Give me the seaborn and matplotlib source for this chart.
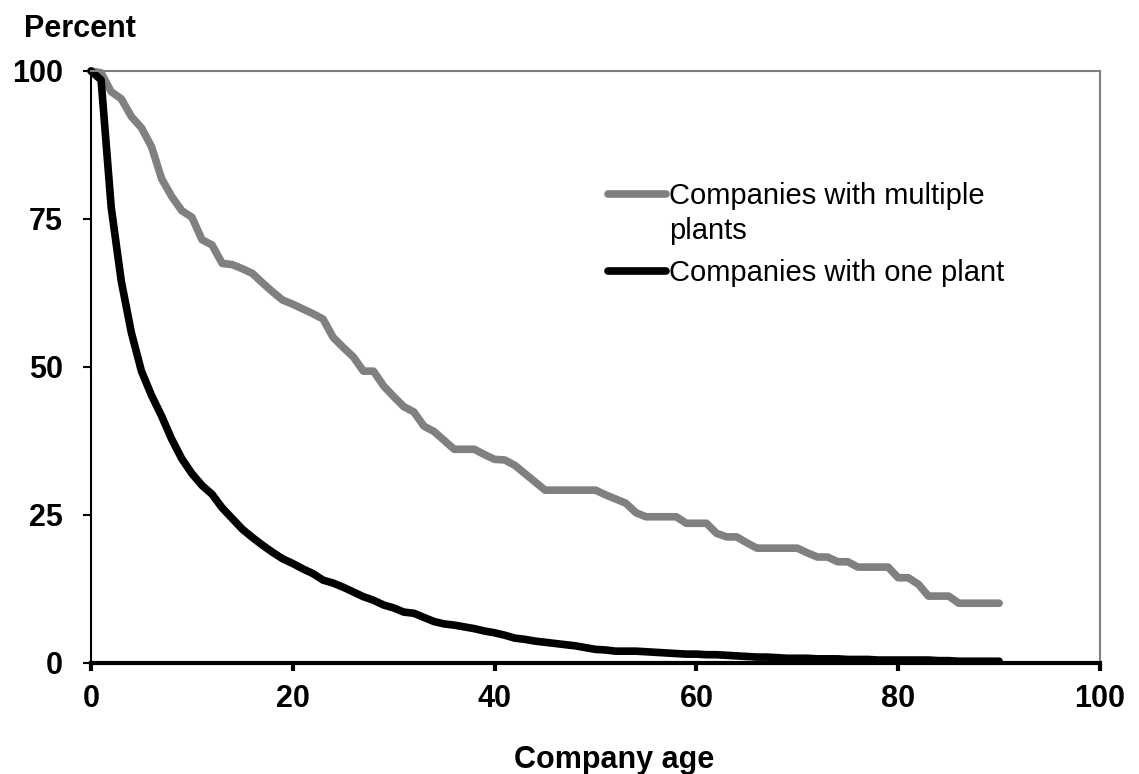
import numpy as np
import pandas as pd
import matplotlib
matplotlib.use("Agg")
import matplotlib.pyplot as plt
import seaborn as sns
from matplotlib.legend_handler import HandlerLine2D

# survival of companies by age (percent still alive)
age = list(range(0, 91))

multi_plant = [
    100, 99.7, 96.5, 95.3, 92.3, 90.4, 87.2, 81.8, 78.8, 76.4,
    75.3, 71.5, 70.6, 67.5, 67.3, 66.6, 65.8, 64.2, 62.7, 61.3,
    60.6, 59.8, 59.0, 58.1, 55.0, 53.3, 51.7, 49.3, 49.3, 46.8,
    45.0, 43.3, 42.4, 40.0, 39.1, 37.6, 36.1, 36.1, 36.1, 35.2,
    34.4, 34.3, 33.4, 32.0, 30.6, 29.2, 29.2, 29.2, 29.2, 29.2,
    29.2, 28.4, 27.7, 27.0, 25.4, 24.7, 24.7, 24.7, 24.7, 23.6,
    23.6, 23.6, 21.9, 21.3, 21.3, 20.3, 19.4, 19.4, 19.4, 19.4,
    19.4, 18.6, 17.9, 17.9, 17.1, 17.1, 16.2, 16.2, 16.2, 16.2,
    14.4, 14.4, 13.3, 11.3, 11.3, 11.3, 10.1, 10.1, 10.1, 10.1,
    10.1,
]

one_plant = [
    100, 98.5, 77.0, 64.5, 55.8, 49.3, 45.2, 41.7, 37.8, 34.5,
    32.0, 30.0, 28.5, 26.2, 24.4, 22.6, 21.2, 19.9, 18.7, 17.6,
    16.8, 15.9, 15.1, 14.0, 13.5, 12.8, 12.0, 11.2, 10.6, 9.8,
    9.3, 8.6, 8.4, 7.7, 7.0, 6.6, 6.4, 6.1, 5.8, 5.4,
    5.1, 4.7, 4.2, 4.0, 3.7, 3.5, 3.3, 3.1, 2.9, 2.6,
    2.3, 2.2, 2.0, 2.0, 2.0, 1.9, 1.8, 1.7, 1.6, 1.5,
    1.5, 1.4, 1.4, 1.3, 1.2, 1.1, 1.0, 1.0, 0.9, 0.8,
    0.8, 0.8, 0.7, 0.7, 0.7, 0.6, 0.6, 0.6, 0.5, 0.5,
    0.5, 0.5, 0.5, 0.5, 0.4, 0.4, 0.3, 0.3, 0.3, 0.3,
    0.3,
]

series_names = ["Companies with multiple\nplants", "Companies with one plant"]
series_colors = ["#808080", "#000000"]
x_ticks = [0, 20, 40, 60, 80, 100]
y_ticks = [0, 25, 50, 75, 100]

df = pd.concat([
    pd.DataFrame({"age": age, "percent": multi_plant, "group": series_names[0]}),
    pd.DataFrame({"age": age, "percent": one_plant, "group": series_names[1]}),
])


class FirstLineHandler(HandlerLine2D):
    """Put the legend line next to the first line of a two-line label."""

    def __init__(self, shift, **kw):
        super().__init__(**kw)
        self.shift = shift

    def create_artists(self, legend, orig_handle, xdescent, ydescent,
                       width, height, fontsize, trans):
        artists = super().create_artists(legend, orig_handle, xdescent, ydescent,
                                         width, height, fontsize, trans)
        for a in artists:
            a.set_ydata(np.asarray(a.get_ydata()) + self.shift * fontsize)
        return artists


sns.set_style("ticks")
plt.rcParams["font.family"] = ["Liberation Sans", "DejaVu Sans"]
plt.rcParams["text.color"] = "black"
plt.rcParams["axes.labelcolor"] = "black"
plt.rcParams["xtick.color"] = "black"
plt.rcParams["ytick.color"] = "black"

fig = plt.figure(figsize=(11.39, 7.74), dpi=100)
ax = fig.add_axes([91 / 1139, 1 - 663 / 774, 1009 / 1139, 592 / 774])

sns.lineplot(data=df, x="age", y="percent", hue="group", hue_order=series_names,
             palette=series_colors, linewidth=5.5, solid_capstyle="round",
             clip_on=False, ax=ax)

ax.set_xlim(0, 100)
ax.set_ylim(0, 100)
ax.set_xticks(x_ticks)
ax.set_yticks(y_ticks)
ax.set_xticklabels([str(t) for t in x_ticks], fontsize=22, fontweight="bold")
ax.set_yticklabels([str(t) for t in y_ticks], fontsize=22, fontweight="bold")
ax.tick_params(axis="x", length=6, width=3, pad=9, color="black", labelcolor="black")
ax.tick_params(axis="y", length=6, width=1.5, pad=14, color="black", labelcolor="black")

ax.spines["left"].set_color("black")
ax.spines["left"].set_linewidth(1.5)
ax.spines["bottom"].set_color("black")
ax.spines["bottom"].set_linewidth(3)
for side in ["top", "right"]:
    ax.spines[side].set_visible(True)
    ax.spines[side].set_color("#808080")
    ax.spines[side].set_linewidth(1.5)

ax.set_xlabel("Company age", fontsize=22, fontweight="bold", color="black")
ax.xaxis.set_label_coords((614 - 91) / 1009, -(745 - 663) / 592)
ax.set_ylabel("Percent", fontsize=22, fontweight="bold", rotation=0,
              ha="left", va="baseline", color="black")
ax.yaxis.set_label_coords((24 - 91) / 1009, (663 - 37) / 592)

handles, labels = ax.get_legend_handles_labels()
ax.get_legend().remove()
for h in handles:
    h.set_linewidth(5.5)
    h.set_solid_capstyle("round")
leg = ax.legend(handles, labels, loc="upper left",
                bbox_to_anchor=((608 - 91) / 1009, (663 - 182) / 592),
                frameon=False, prop={"size": 21}, handlelength=2.0,
                handletextpad=0.1, labelspacing=0.5, borderpad=0,
                borderaxespad=0,
                handler_map={handles[0]: FirstLineHandler(0.7)})
for t in leg.get_texts():
    t.set_linespacing(1.3)
    t.set_color("black")

fig.savefig("out.png", dpi=100)
